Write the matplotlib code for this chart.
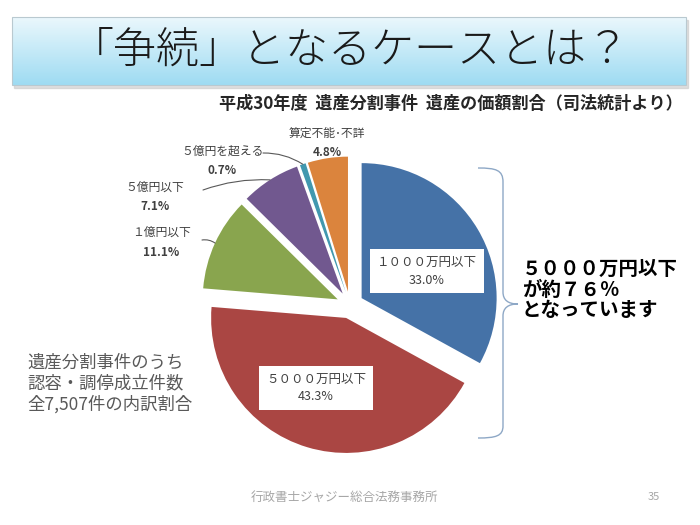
import numpy as np
import matplotlib.pyplot as plt
from matplotlib.patches import Rectangle, PathPatch
from matplotlib.path import Path

plt.rcParams['font.family'] = ['Noto Sans CJK JP', 'DejaVu Sans']

# Data (clockwise from 12 o'clock)
names = ['１０００万円以下', '５０００万円以下', '１億円以下', '５億円以下', '５億円を超える', '算定不能･不詳']
shares = [33.0, 43.3, 11.1, 7.1, 0.7, 4.8]
colors = ['#4572A7', '#AA4643', '#89A54E', '#71588F', '#4198AF', '#DB843D']

title = '「争続」となるケースとは？'
subtitle = '平成30年度  遺産分割事件  遺産の価額割合（司法統計より）'
note_right = '５０００万円以下\nが約７６％\nとなっています'
note_left = '遺産分割事件のうち\n認容・調停成立件数\n全7,507件の内訳割合'
footer = '行政書士ジャジー総合法務事務所'
page_no = '35'

H = 525
R = 135  # pie radius in px


def Y(y):
    # image row -> data y
    return H - y


fig = plt.figure(figsize=(7, 5.25), dpi=100)
ax = fig.add_axes([0, 0, 1, 1])

# Title box with gradient
grad = np.linspace(0, 1, 100).reshape(-1, 1)
top = np.array([0.92, 0.97, 0.99])
bot = np.array([0.62, 0.86, 0.95])
img = top + (bot - top) * grad[:, :, None]
ax.add_patch(Rectangle((14, Y(88)), 674, 68, color='#c8c8c8', alpha=0.6, zorder=1))
ax.imshow(img, extent=(12, 686, Y(85), Y(17)), aspect='auto', zorder=2)
ax.add_patch(Rectangle((12, Y(85)), 674, 68, fill=False, edgecolor='#b9c9d0', lw=0.8, zorder=3))
ax.text(350, Y(50), title, ha='center', va='center', fontsize=31, fontweight='light',
        color='#1a1a1a', zorder=4)

ax.text(683, Y(104), subtitle, ha='right', va='center', fontsize=12.3, fontweight='bold',
        color='#262626')

# Pie (explode is in data units, i.e. px here)
wedges, _ = ax.pie(shares, colors=colors, startangle=90, counterclock=False,
                   explode=[0.1 * R] * len(shares), center=(350, Y(305)), radius=R,
                   wedgeprops=dict(linewidth=0))
ax.set_xlim(0, 700)
ax.set_ylim(0, H)
ax.set_aspect('equal')
ax.axis('off')

# Labels inside boxes
for i, (x, y) in [(0, (427, 271)), (1, (316, 388))]:
    ax.text(x, Y(y), f'{names[i]}\n{shares[i]:.1f}%', ha='center', va='center',
            multialignment='center', fontsize=9, color='#404040', linespacing=1.5,
            bbox=dict(boxstyle='square,pad=0.55', fc='white', ec='none'))

# Outside labels with leaders
outside = {2: ((161, 232), (202, 240), -0.2),
           3: ((155, 187), (203, 190), -0.1),
           4: ((222, 151), (263, 153), -0.15),
           5: ((327, 133), None, 0)}
for i, ((x, y), start, rad) in outside.items():
    ax.text(x, Y(y), names[i], ha='center', va='center', fontsize=8.5, color='#404040')
    ax.text(x, Y(y + 20), f'{shares[i]:.1f}%', ha='center', va='center', fontsize=8.5,
            fontweight='bold', color='#404040')
    if start is not None:
        w = wedges[i]
        a = np.deg2rad((w.theta1 + w.theta2) / 2)
        pt = (w.center[0] + w.r * np.cos(a), w.center[1] + w.r * np.sin(a))
        ax.annotate('', xy=pt, xytext=(start[0], Y(start[1])),
                    arrowprops=dict(arrowstyle='-', color='#595959', lw=0.8,
                                    shrinkA=0, shrinkB=0,
                                    connectionstyle=f'arc3,rad={rad}'))

# Brace
verts = [(478, 168), (496, 168), (503, 170), (503, 182),
         (503, 292),
         (503, 300), (508, 304), (518, 304),
         (508, 304), (503, 308), (503, 316),
         (503, 426),
         (503, 436), (496, 438), (478, 438)]
codes = [Path.MOVETO, Path.CURVE4, Path.CURVE4, Path.CURVE4,
         Path.LINETO,
         Path.CURVE4, Path.CURVE4, Path.CURVE4,
         Path.CURVE4, Path.CURVE4, Path.CURVE4,
         Path.LINETO,
         Path.CURVE4, Path.CURVE4, Path.CURVE4]
brace = Path([(x, Y(y)) for x, y in verts], codes)
ax.add_patch(PathPatch(brace, fill=False, edgecolor='#8ea8c6', lw=1.0))

ax.text(522, Y(290), note_right, ha='left', va='center', fontsize=14, fontweight='bold',
        color='black', linespacing=1.1)
ax.text(27, Y(384), note_left, ha='left', va='center', fontsize=12.5, color='#595959',
        linespacing=1.2)

ax.text(344, Y(497), footer, ha='center', va='center', fontsize=9, color='#a6a6a6')
ax.text(654, Y(497), page_no, ha='center', va='center', fontsize=8, color='#a6a6a6')

fig.savefig('out.png', dpi=100)
